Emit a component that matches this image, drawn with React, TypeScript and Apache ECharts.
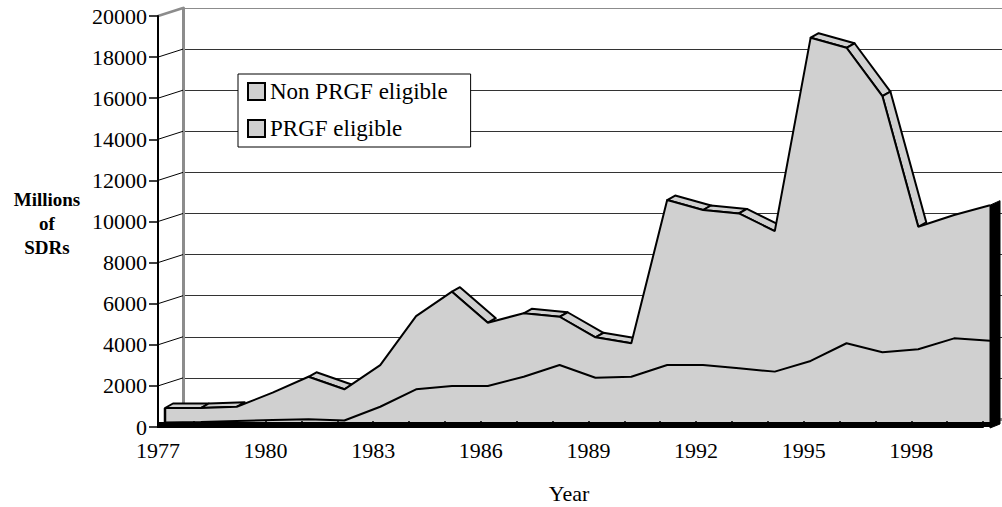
import React, { useEffect, useRef } from 'react';
import * as echarts from 'echarts';

const years = [
  '1977', '1978', '1979', '1980', '1981', '1982', '1983', '1984', '1985', '1986', '1987', '1988',
  '1989', '1990', '1991', '1992', '1993', '1994', '1995', '1996', '1997', '1998', '1999', '2000',
];
// PRGF eligible (bottom layer), millions of SDRs
const prgfEligible = [
  30, 50, 100, 150, 180, 120, 790, 1640, 1800, 1800, 2250, 2820,
  2200, 2250, 2820, 2820, 2660, 2500, 3020, 3880, 3440, 3590, 4120, 4000,
];
// Non PRGF eligible (stacked on top), millions of SDRs
const nonPrgfEligible = [
  700, 680, 690, 1325, 2070, 1520, 2030, 3560, 4590, 3080, 3090, 2350,
  1970, 1630, 8030, 7545, 7540, 6840, 15730, 14380, 12470, 5960, 6000, 6600,
];
const yTicks = [0, 2000, 4000, 6000, 8000, 10000, 12000, 14000, 16000, 18000, 20000];
const seriesNames = ['Non PRGF eligible', 'PRGF eligible'];

const FONT = 'Liberation Serif, Times New Roman, serif';
const FILL = '#d0d0d0';
const WALL = '#8c8c8c';
const DX = 8;
const DY = -4.5;

export default function App() {
  const ref = useRef<HTMLDivElement>(null);

  useEffect(() => {
    if (!ref.current) return;
    const chart = echarts.init(ref.current, null, { renderer: 'svg' });
    const totals = years.map((_, i) => prgfEligible[i] + nonPrgfEligible[i]);
    const segs = totals.slice(0, -1).map((v, i) => [i, v, totals[i + 1]]);
    const last = years.length - 1;

    const option: any = {
      animation: false,
      backgroundColor: '#ffffff',
      textStyle: { fontFamily: FONT },
      grid: [
        { left: 183, top: 8, width: 819, height: 411 },
        { left: 158, top: 16, width: 825, height: 411 },
        { left: 165, top: 12, width: 825, height: 411 },
      ],
      xAxis: [
        {
          gridIndex: 0, type: 'value', min: 0, max: 1, position: 'top',
          axisLine: { show: true, lineStyle: { color: WALL, width: 3 } },
          axisTick: { show: false }, axisLabel: { show: false }, splitLine: { show: false },
        },
        {
          gridIndex: 1, type: 'category', data: years, boundaryGap: false, z: 10,
          axisLine: { show: true, lineStyle: { color: '#000', width: 2 } },
          axisTick: { show: true, inside: true, length: 6, interval: 0, lineStyle: { color: '#000', width: 1.5 } },
          axisLabel: { interval: 2, margin: 14, color: '#000', fontFamily: FONT, fontSize: 22, lineHeight: 18 },
          splitLine: { show: false },
        },
        { gridIndex: 2, type: 'category', data: years, boundaryGap: false, show: false },
      ],
      yAxis: [
        {
          gridIndex: 0, type: 'value', min: 0, max: 20000, interval: 2000,
          axisLine: { show: true, lineStyle: { color: WALL, width: 3 } },
          axisTick: { show: false }, axisLabel: { show: false },
          splitLine: {
            show: true,
            lineStyle: { color: ['#333', '#333', '#333', '#333', '#333', '#333', '#333', '#333', '#333', '#333', WALL], width: 1 },
          },
        },
        {
          gridIndex: 1, type: 'value', min: 0, max: 20000, interval: 2000, z: 10,
          axisLine: { show: true, lineStyle: { color: '#000', width: 2 } },
          axisTick: { show: true, length: 9, lineStyle: { color: '#000', width: 1.5 } },
          axisLabel: {
            margin: 11, color: '#000', fontFamily: FONT, fontSize: 22, lineHeight: 18,
            padding: [0, 0, 4, 0],
            formatter: (v: number) => String(v),
          },
          splitLine: { show: false },
        },
        { gridIndex: 2, type: 'value', min: 0, max: 20000, show: false },
      ],
      legend: {
        left: 238, top: 74, orient: 'vertical',
        data: seriesNames,
        icon: 'rect', itemWidth: 17, itemHeight: 17, itemGap: 14,
        itemStyle: { color: FILL, borderColor: '#000', borderWidth: 2 },
        lineStyle: { opacity: 0 },
        textStyle: { fontFamily: FONT, fontSize: 23, color: '#000', lineHeight: 23 },
        backgroundColor: '#fff', borderColor: '#000', borderWidth: 1,
        padding: [6, 23, 7, 9], z: 20,
      },
      graphic: [
        {
          type: 'text', x: 47, y: 223, z: 20,
          style: {
            text: 'Millions\nof\nSDRs', fontFamily: FONT, fontWeight: 'bold', fontSize: 19,
            lineHeight: 24, align: 'center', verticalAlign: 'middle', fill: '#000',
          },
        },
        {
          type: 'text', x: 569, y: 493, z: 20,
          style: { text: 'Year', fontFamily: FONT, fontSize: 22, align: 'center', verticalAlign: 'middle', fill: '#000' },
        },
      ],
      series: [
        {
          type: 'custom', name: 'connectors', xAxisIndex: 1, yAxisIndex: 1, z: 1, clip: false,
          silent: true,
          data: yTicks.map((v) => [0, v]),
          renderItem: (params: any, api: any) => {
            const v = api.value(1);
            const p = api.coord([0, v]);
            const top = v === 20000;
            return {
              type: 'line',
              shape: { x1: p[0], y1: p[1], x2: p[0] + 25, y2: p[1] - 8 },
              style: { stroke: top ? WALL : '#000', lineWidth: top ? 2.5 : 1 },
            };
          },
        },
        {
          type: 'custom', name: 'ribbons', xAxisIndex: 2, yAxisIndex: 2, z: 2, clip: false,
          silent: true,
          data: segs,
          renderItem: (params: any, api: any) => {
            const i = api.value(0);
            const a = api.coord([i, api.value(1)]);
            const b = api.coord([i + 1, api.value(2)]);
            // the top face of a rising slope is hidden behind the front face
            if (a[1] - b[1] > 3) return null;
            return {
              type: 'polygon',
              shape: { points: [a, b, [b[0] + DX, b[1] + DY], [a[0] + DX, a[1] + DY]] },
              style: { fill: FILL, stroke: '#000', lineWidth: 2, lineJoin: 'round' },
            };
          },
        },
        {
          type: 'line', name: seriesNames[1], xAxisIndex: 2, yAxisIndex: 2, stack: 'total', z: 4,
          data: prgfEligible, symbol: 'none', showSymbol: false,
          lineStyle: { color: '#000', width: 2 },
          areaStyle: { color: FILL, opacity: 1 },
          itemStyle: { color: FILL, borderColor: '#000', borderWidth: 2 },
        },
        {
          type: 'line', name: seriesNames[0], xAxisIndex: 2, yAxisIndex: 2, stack: 'total', z: 3,
          data: nonPrgfEligible, symbol: 'none', showSymbol: false,
          lineStyle: { color: '#000', width: 2 },
          areaStyle: { color: FILL, opacity: 1 },
          itemStyle: { color: FILL, borderColor: '#000', borderWidth: 2 },
        },
        {
          type: 'custom', name: 'sides', xAxisIndex: 2, yAxisIndex: 2, z: 6, clip: false,
          silent: true,
          data: [[0, totals[0], last, totals[last]]],
          renderItem: (params: any, api: any) => {
            const l0 = api.coord([api.value(0), 0]);
            const lt = api.coord([api.value(0), api.value(1)]);
            const r0 = api.coord([api.value(2), 0]);
            const rt = api.coord([api.value(2), api.value(3)]);
            return {
              type: 'group',
              children: [
                {
                  type: 'line',
                  shape: { x1: lt[0], y1: lt[1], x2: l0[0], y2: l0[1] },
                  style: { stroke: '#000', lineWidth: 2.5 },
                },
                {
                  type: 'polygon',
                  shape: {
                    points: [rt, [rt[0] + DX + 2, rt[1] + DY], [r0[0] + DX + 2, r0[1] + 1], [r0[0], r0[1] + 5]],
                  },
                  style: { fill: '#000', stroke: '#000', lineWidth: 1 },
                },
                {
                  type: 'polygon',
                  shape: {
                    points: [[l0[0] - 7, l0[1] - 1], [r0[0], r0[1] - 1], [r0[0], r0[1] + 4], [l0[0] - 7, l0[1] + 4]],
                  },
                  style: { fill: '#000' },
                },
              ],
            };
          },
        },
      ],
    };

    chart.setOption(option);
    return () => chart.dispose();
  }, []);

  return (
    <div
      ref={ref}
      style={{ position: 'absolute', left: 0, top: 0, width: 1002, height: 507, background: '#fff' }}
    />
  );
}
